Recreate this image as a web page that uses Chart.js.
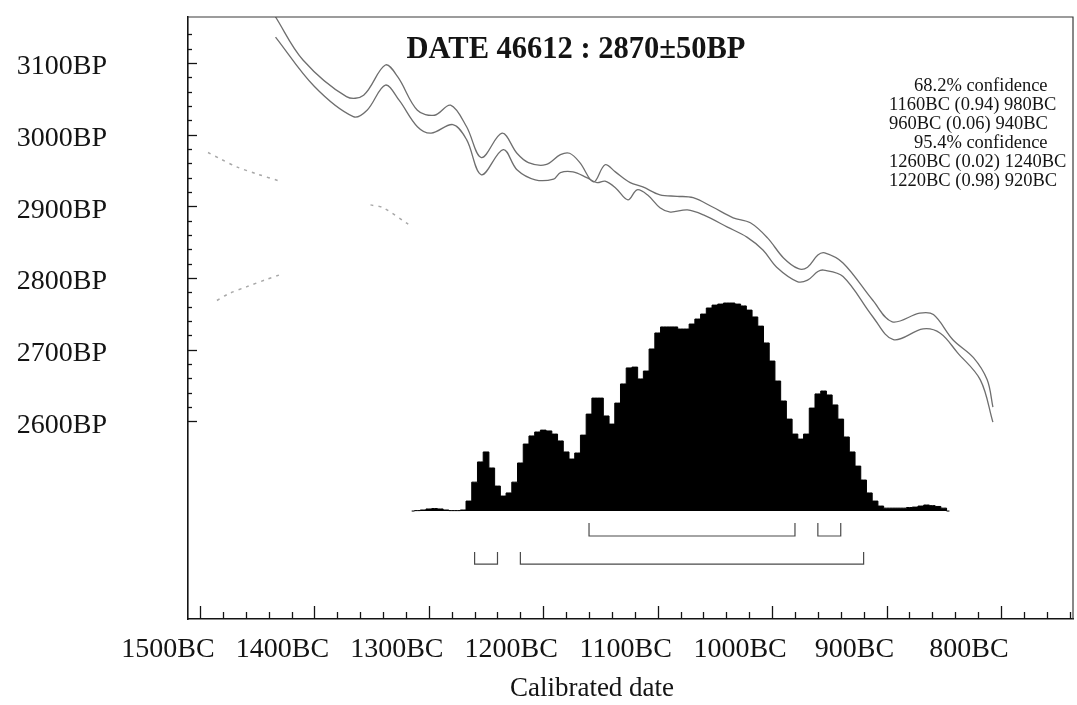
<!DOCTYPE html>
<html>
<head>
<meta charset="utf-8">
<script src="https://cdn.jsdelivr.net/npm/chart.js@4.4.1/dist/chart.umd.min.js"></script>
<style>
  html, body { margin: 0; padding: 0; background: #fff; }
</style>
</head>
<body>
<canvas id="c" width="1077" height="705"></canvas>
<script>
// radiocarbon date
const sampleName = 'DATE 46612';
const dateBP = 2870, errBP = 50;

// axis ticks
const xTickYears = [1500, 1400, 1300, 1200, 1100, 1000, 900, 800];
const yTickBP = [2600, 2700, 2800, 2900, 3000, 3100];

// calibration curve, upper and lower edge (calendar year BC, BP)
const calUpperYears = [1434,1410,1372,1357,1338,1327,1310,1295,1281,1267,1254,1236,1223,1213,1198,1185,1177,1168,1156,1146,1137,1124,1113,1098,1083,1069,1052,1034,1019,1004,990,977,969,960,954,938,912,895,871,859,842,824,812,807];
const calUpperBP    = [3164,3104,3053,3055,3097,3080,3034,3027,3041,3011,2968,3002,2974,2961,2958,2972,2974,2961,2934,2958,2948,2933,2927,2916,2914,2912,2899,2884,2877,2856,2828,2813,2815,2832,2835,2821,2769,2739,2751,2749,2714,2689,2658,2620];
const calLowerYears = [1434,1400,1366,1354,1338,1326,1310,1298,1279,1267,1254,1235,1223,1207,1191,1185,1174,1162,1153,1146,1137,1126,1118,1109,1098,1089,1074,1060,1039,1022,1008,996,978,969,960,955,938,912,894,868,853,838,818,807];
const calLowerBP    = [3136,3067,3025,3034,3069,3048,3011,3002,3014,2993,2944,2979,2951,2937,2938,2947,2948,2940,2933,2935,2926,2909,2923,2916,2898,2892,2895,2888,2871,2857,2839,2815,2795,2797,2809,2811,2802,2746,2714,2729,2723,2696,2658,2599];

// faint measured-date curve on the BP axis (null = faded away)
const gaussYears = [1493,1482,1468,1450,1430,1430,1351,1340,1318,1318,1431,1442,1459,1475,1488];
const gaussBP    = [2975,2966,2955,2945,2935,null,2902,2898,2875,null,2804,2798,2788,2778,2766];

// calibrated probability (relative, peak = 100)
const distYears = [1315,1310,1305,1300,1295,1290,1285,1280,1275,1270,1265,1260,1255,1250,1245,1240,1235,1230,1225,1220,1215,1210,1205,1200,1195,1190,1185,1180,1175,1170,1165,1160,1155,1150,1145,1140,1135,1130,1125,1120,1115,1110,1105,1100,1095,1090,1085,1080,1075,1070,1065,1060,1055,1050,1045,1040,1035,1030,1025,1020,1015,1010,1005,1000,995,990,985,980,975,970,965,960,955,950,945,940,935,930,925,920,915,910,905,900,895,890,885,880,875,870,865,860,855,850,845];
const distProb  = [0,0.2,0.5,1.0,1.2,1.0,0.5,0.2,0.2,0.5,4.8,13.9,23.6,28.4,20.7,12.0,7.2,8.7,13.9,23.1,32.2,36.1,38.0,38.9,38.5,37.0,33.7,28.4,25.0,27.9,36.5,46.6,54.3,54.3,45.7,41.8,51.9,61.1,68.8,69.2,63.5,67.3,77.9,85.6,88.5,88.5,88.5,87.5,87.5,89.9,92.3,94.7,97.6,99.0,99.5,100,100,99.5,98.6,96.6,93.3,88.9,80.8,72.1,62.5,52.9,44.2,37.0,34.6,37.0,49.5,56.3,57.7,55.8,51.0,44.2,35.6,28.4,21.6,14.9,8.7,4.8,2.4,1.4,1.4,1.4,1.4,1.7,1.9,2.4,2.9,2.6,2.2,1.4,0];

// ranges [from BC, to BC, probability]
const ranges68 = [[1160, 980, 0.94], [960, 940, 0.06]];
const ranges95 = [[1260, 1240, 0.02], [1220, 920, 0.98]];

const serif = '"Liberation Serif", "Times New Roman", serif';
const ink = '#141414';

function pts(xs, ys){ return xs.map((x,i)=>({x:x, y:ys[i]})); }

function bracket(r, top, bottom){
  return {
    data: [{x:r[0],y:top},{x:r[0],y:bottom},{x:r[1],y:bottom},{x:r[1],y:top}],
    yAxisID: 'yp', borderColor: '#4a4a4a', borderWidth: 1.2, pointRadius: 0, tension: 0, fill: false
  };
}

// keep the plot box where the reference has it
function noPad(s){ s.paddingTop = 0; s.paddingBottom = 0; s.paddingLeft = 0; s.paddingRight = 0; }

const confLines = [];
confLines.push({t:'68.2% confidence', head:true});
ranges68.forEach(r=>confLines.push({t:`${r[0]}BC (${r[2].toFixed(2)}) ${r[1]}BC`}));
confLines.push({t:'95.4% confidence', head:true});
ranges95.forEach(r=>confLines.push({t:`${r[0]}BC (${r[2].toFixed(2)}) ${r[1]}BC`}));

const decor = {
  id: 'decor',
  afterDraw(chart){
    const {ctx, chartArea: a, scales} = chart;
    const xs = scales.x, ys = scales.y;
    ctx.save();
    // top and right frame
    ctx.strokeStyle = '#3a3a3a'; ctx.lineWidth = 1.2;
    ctx.beginPath();
    ctx.moveTo(a.left, a.top); ctx.lineTo(a.right, a.top); ctx.lineTo(a.right, a.bottom);
    ctx.stroke();
    // inward tick marks
    ctx.strokeStyle = ink; ctx.lineWidth = 1.3;
    for(let v = 1500; v >= 740; v -= 20){
      const px = Math.round(xs.getPixelForValue(v)) + 0.5;
      const len = v % 100 === 0 ? 13 : 7;
      ctx.beginPath(); ctx.moveTo(px, a.bottom); ctx.lineTo(px, a.bottom - len); ctx.stroke();
    }
    for(let v = 2600; v <= 3140; v += 20){
      const py = Math.round(ys.getPixelForValue(v)) + 0.5;
      const len = v % 100 === 0 ? 9 : 4;
      ctx.beginPath(); ctx.moveTo(a.left, py); ctx.lineTo(a.left + len, py); ctx.stroke();
    }
    ctx.fillStyle = ink;
    ctx.textBaseline = 'middle';
    // title
    ctx.font = `bold 30.5px ${serif}`;
    ctx.textAlign = 'center';
    ctx.fillText(`${sampleName} : ${dateBP}\u00b1${errBP}BP`, 576, 50);
    // confidence text
    ctx.font = `18.5px ${serif}`;
    ctx.textAlign = 'left';
    confLines.forEach((l,i)=>ctx.fillText(l.t, l.head ? 914 : 889, 86 + i*19));
    // x axis title
    ctx.font = `27px ${serif}`;
    ctx.textAlign = 'center';
    ctx.fillText('Calibrated date', 592, 689);
    ctx.restore();
  }
};

new Chart(document.getElementById('c'), {
  type: 'line',
  data: {
    datasets: [
      { data: pts(calUpperYears, calUpperBP), yAxisID: 'y', borderColor: '#6e6e6e', borderWidth: 1.3, pointRadius: 0, tension: 0.35, fill: false },
      { data: pts(calLowerYears, calLowerBP), yAxisID: 'y', borderColor: '#6e6e6e', borderWidth: 1.3, pointRadius: 0, tension: 0.35, fill: false },
      { data: pts(gaussYears, gaussBP), yAxisID: 'y', borderColor: '#a8a8a8', borderWidth: 1.5, borderDash: [3,5], pointRadius: 0, tension: 0.3, fill: false, spanGaps: false },
      { data: pts(distYears, distProb), yAxisID: 'yp', stepped: 'middle', borderColor: '#000', backgroundColor: '#000', borderWidth: 1, pointRadius: 0, fill: 'origin' },
      bracket(ranges68[0], -5.8, -12.0),
      bracket(ranges68[1], -5.8, -12.0),
      bracket(ranges95[0], -19.7, -25.5),
      bracket(ranges95[1], -19.7, -25.5)
    ]
  },
  options: {
    responsive: false,
    animation: false,
    events: [],
    layout: { padding: { top: 17, right: 4, left: 0, bottom: 0 } },
    plugins: { legend: { display: false }, tooltip: { enabled: false } },
    scales: {
      x: {
        type: 'linear', position: 'bottom', reverse: true, min: 737, max: 1510.5,
        afterFit: s => { s.height = 86; noPad(s); },
        afterBuildTicks: s => { s.ticks = xTickYears.map(v=>({value:v})); },
        grid: { display: false, drawTicks: false },
        border: { display: true, color: ink, width: 1.6 },
        ticks: { padding: 14, labelOffset: -32, color: ink, font: { family: serif, size: 28 }, maxRotation: 0, autoSkip: false, callback: v => v + 'BC' }
      },
      y: {
        type: 'linear', position: 'left', min: 2324.5, max: 3164,
        afterFit: s => { s.width = 188; noPad(s); },
        afterBuildTicks: s => { s.ticks = yTickBP.map(v=>({value:v})); },
        grid: { display: false, drawTicks: false },
        border: { display: true, color: ink, width: 1.6 },
        ticks: { padding: 81, labelOffset: 4, color: ink, font: { family: serif, size: 28 }, autoSkip: false, callback: v => v + 'BP' }
      },
      yp: { type: 'linear', display: false, min: -51.9, max: 237.5 }
    }
  },
  plugins: [decor]
});
</script>
</body>
</html>
